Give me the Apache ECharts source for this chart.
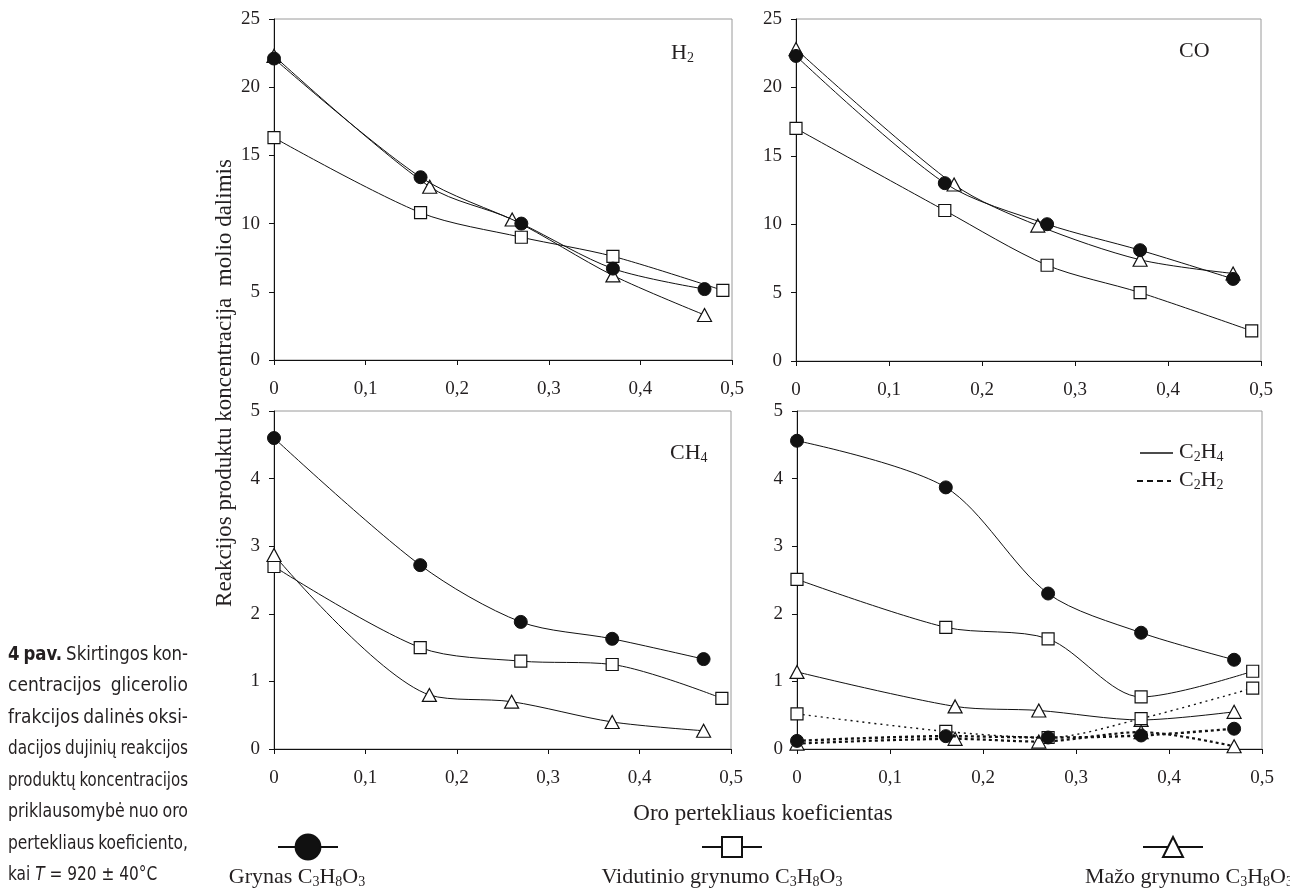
<!DOCTYPE html>
<html><head><meta charset="utf-8">
<script src="https://cdn.jsdelivr.net/npm/echarts@6/dist/echarts.min.js"></script>
<style>html,body{margin:0;padding:0;background:#fff}#c{width:1290px;height:891px}</style>
</head><body><div id="c"></div>
<script>
// ---- data ----
const xGrynas    = [0, 0.16, 0.27, 0.37, 0.47];
const xVidutinio = [0, 0.16, 0.27, 0.37, 0.49];
const xMazo      = [0, 0.17, 0.26, 0.37, 0.47];

const h2Grynas    = [22.1, 13.4, 10.0, 6.7, 5.2];
const h2Vidutinio = [16.3, 10.8, 9.0, 7.6, 5.1];
const h2Mazo      = [22.3, 12.7, 10.3, 6.2, 3.3];

const coGrynas    = [22.3, 13.0, 10.0, 8.1, 6.0];
const coVidutinio = [17.0, 11.0, 7.0, 5.0, 2.2];
const coMazo      = [22.8, 12.9, 9.9, 7.4, 6.4];

const ch4Grynas    = [4.6, 2.72, 1.88, 1.63, 1.33];
const ch4Vidutinio = [2.7, 1.5, 1.3, 1.25, 0.75];
const ch4Mazo      = [2.87, 0.8, 0.7, 0.4, 0.27];

const c2h4Grynas    = [4.56, 3.87, 2.30, 1.72, 1.32];
const c2h4Vidutinio = [2.51, 1.80, 1.63, 0.77, 1.15];
const c2h4Mazo      = [1.14, 0.63, 0.57, 0.43, 0.55];

const c2h2Grynas    = [0.12, 0.19, 0.17, 0.20, 0.30];
const c2h2Vidutinio = [0.52, 0.26, 0.17, 0.45, 0.90];
const c2h2Mazo      = [0.08, 0.15, 0.11, 0.25, 0.04];

const xTickLabels = ['0', '0,1', '0,2', '0,3', '0,4', '0,5'];
const yTopTicks = [0, 5, 10, 15, 20, 25];
const yBottomTicks = [0, 1, 2, 3, 4, 5];

// ---- styling ----
const SERIF = "'Liberation Serif','Times New Roman',serif";
const INK = '#231f20';
const chart = echarts.init(document.getElementById('c'), null, {renderer: 'canvas'});

const grids = [
  {left: 274, top: 19, width: 458, height: 341},
  {left: 796, top: 19, width: 465, height: 342},
  {left: 274, top: 411, width: 457, height: 338},
  {left: 797, top: 411, width: 465, height: 338}
].map(g => Object.assign({show: true, borderColor: '#9a9a9a', borderWidth: 1, backgroundColor: 'transparent'}, g));

const axisLbl = {fontFamily: SERIF, fontSize: 19, color: INK};
const xAxes = grids.map((g, i) => ({
  gridIndex: i, type: 'value', min: 0, max: 0.5, interval: 0.1,
  axisLine: {show: true, onZero: false, lineStyle: {color: '#111', width: 1}},
  axisTick: {show: true, length: 5, lineStyle: {color: '#111'}},
  splitLine: {show: false},
  axisLabel: Object.assign({margin: 20, formatter: v => xTickLabels[Math.round(v * 10)]}, axisLbl)
}));
const yAxes = grids.map((g, i) => {
  const ticks = i < 2 ? yTopTicks : yBottomTicks;
  return {
    gridIndex: i, type: 'value', min: ticks[0], max: ticks[ticks.length - 1], interval: ticks[1] - ticks[0],
    axisLine: {show: true, lineStyle: {color: '#111', width: 1}},
    axisTick: {show: true, length: 5, lineStyle: {color: '#111'}},
    splitLine: {show: false},
    axisLabel: Object.assign({margin: 14}, axisLbl)
  };
});

const kinds = {
  Grynas:    {symbol: 'circle',   symbolSize: 13, itemStyle: {color: '#111', borderColor: '#111', borderWidth: 1}},
  Vidutinio: {symbol: 'rect',     symbolSize: 12, itemStyle: {color: '#fff', borderColor: '#111', borderWidth: 1.2}},
  Mazo:      {symbol: 'triangle', symbolSize: [14, 13], itemStyle: {color: '#fff', borderColor: '#111', borderWidth: 1.2}}
};
function pts(xs, ys) { return xs.map((x, i) => [x, ys[i]]); }
function mk(name, kind, gi, xs, ys, line) {
  const k = kinds[kind];
  return {
    name: name, type: 'line', xAxisIndex: gi, yAxisIndex: gi,
    data: pts(xs, ys), smooth: 0.3,
    symbol: k.symbol, symbolSize: k.symbolSize, itemStyle: k.itemStyle,
    lineStyle: Object.assign({color: '#111', width: 1}, line || {}),
    emphasis: {disabled: true}, silent: true, animation: false,
    z: kind === 'Grynas' ? 4 : 3
  };
}
const series = [
  mk('Grynas', 'Grynas', 0, xGrynas, h2Grynas),
  mk('Vidutinio', 'Vidutinio', 0, xVidutinio, h2Vidutinio),
  mk('Mazo', 'Mazo', 0, xMazo, h2Mazo),
  mk('Grynas', 'Grynas', 1, xGrynas, coGrynas),
  mk('Vidutinio', 'Vidutinio', 1, xVidutinio, coVidutinio),
  mk('Mazo', 'Mazo', 1, xMazo, coMazo),
  mk('Grynas', 'Grynas', 2, xGrynas, ch4Grynas),
  mk('Vidutinio', 'Vidutinio', 2, xVidutinio, ch4Vidutinio),
  mk('Mazo', 'Mazo', 2, xMazo, ch4Mazo),
  mk('Grynas', 'Grynas', 3, xGrynas, c2h4Grynas),
  mk('Vidutinio', 'Vidutinio', 3, xVidutinio, c2h4Vidutinio),
  mk('Mazo', 'Mazo', 3, xMazo, c2h4Mazo),
  mk('Grynas C2H2', 'Grynas', 3, xGrynas, c2h2Grynas, {type: [3, 3], width: 2.4}),
  mk('Vidutinio C2H2', 'Vidutinio', 3, xVidutinio, c2h2Vidutinio, {type: [2, 4], width: 1.4}),
  mk('Mazo C2H2', 'Mazo', 3, xMazo, c2h2Mazo, {type: [3, 3], width: 2.2})
];

// ---- legend (icons by ECharts) ----
const legCommon = {orient: 'horizontal', padding: 0, itemGap: 0, selectedMode: false,
  formatter: () => '', textStyle: {fontSize: 1, color: 'rgba(0,0,0,0)'}, lineStyle: {width: 2}};
const legends = [
  Object.assign({data: ['Grynas'], left: 307 - 30, top: 847 - 15.5, itemWidth: 60, itemHeight: 31}, legCommon),
  Object.assign({data: ['Vidutinio'], left: 731 - 30, top: 847 - 12.5, itemWidth: 60, itemHeight: 25}, legCommon),
  Object.assign({data: ['Mazo'], left: 1172 - 30, top: 847 - 12.5, itemWidth: 60, itemHeight: 25}, legCommon)
];

// ---- texts ----
function richStyle(size) {
  return {
    n: {fontFamily: SERIF, fontSize: size, color: INK},
    s: {fontFamily: SERIF, fontSize: Math.round(size * 0.64), color: INK, padding: [Math.round(size * 0.45), 0, 0, 0]}
  };
}
function rtext(x, y, text, size, align) {
  return {type: 'text', x: x, y: y, silent: true, style: {
    text: text, rich: richStyle(size), fontFamily: SERIF, fontSize: size, fill: INK,
    align: align || 'left', verticalAlign: 'middle', textAlign: align || 'left', textVerticalAlign: 'middle'}};
}
const graphics = [
  rtext(671, 53, '{n|H}{s|2}', 22),
  rtext(1179, 51, '{n|CO}', 22),
  rtext(670, 453, '{n|CH}{s|4}', 22),
  {type: 'line', silent: true, shape: {x1: 1140, y1: 453, x2: 1173, y2: 453}, style: {stroke: '#111', lineWidth: 1.3}},
  rtext(1179, 452, '{n|C}{s|2}{n|H}{s|4}', 22),
  {type: 'line', silent: true, shape: {x1: 1137, y1: 481, x2: 1171, y2: 481}, style: {stroke: '#111', lineWidth: 2.2, lineDash: [6, 4]}},
  rtext(1179, 480, '{n|C}{s|2}{n|H}{s|2}', 22),
  {type: 'text', x: 225, y: 383, rotation: Math.PI / 2, silent: true, style: {
    text: 'Reakcijos produktu koncentracija  molio dalimis', fontFamily: SERIF, fontSize: 23, fill: INK,
    align: 'center', verticalAlign: 'middle', textAlign: 'center', textVerticalAlign: 'middle'}},
  {type: 'text', x: 763, y: 814, silent: true, style: {
    text: 'Oro pertekliaus koeficientas', fontFamily: SERIF, fontSize: 23, fill: INK,
    align: 'center', verticalAlign: 'middle', textAlign: 'center', textVerticalAlign: 'middle'}},
  rtext(297, 877, '{n|Grynas C}{s|3}{n|H}{s|8}{n|O}{s|3}', 22, 'center'),
  rtext(722, 877, '{n|Vidutinio grynumo C}{s|3}{n|H}{s|8}{n|O}{s|3}', 22, 'center'),
  rtext(1189, 877, '{n|Mažo grynumo C}{s|3}{n|H}{s|8}{n|O}{s|3}', 22, 'center')
];

// caption (justified, measured with canvas)
const CAPFONT = "'Liberation Sans Narrow','DejaVu Sans Condensed','Liberation Sans',sans-serif";
const CAPSIZE = 19;
const captionRows = [
  '4 pav. Skirtingos kon-',
  'centracijos glicerolio',
  'frakcijos dalinės oksi-',
  'dacijos dujinių reakcijos',
  'produktų koncentracijos',
  'priklausomybė nuo oro',
  'pertekliaus koeficiento,'
];
const capLeft = 8, capRight = 188, capTop = 655, capStep = 31.5;
const mctx = document.createElement('canvas').getContext('2d');
function mw(t, bold) { mctx.font = (bold ? 'bold ' : '') + CAPSIZE + 'px ' + CAPFONT; return mctx.measureText(t).width; }
captionRows.forEach((row, r) => {
  const words = row.split(' ');
  const bolds = words.map((w, i) => r === 0 && i < 2);
  const ws = words.map((w, i) => mw(w, bolds[i]));
  const tot = ws.reduce((a, b) => a + b, 0);
  const avail = capRight - capLeft;
  let gap = (avail - tot) / (words.length - 1), s = 1;
  if (gap < 4) { gap = 4; s = (avail - 4 * (words.length - 1)) / tot; }
  let x = capLeft;
  const y = capTop + r * capStep;
  words.forEach((w, i) => {
    graphics.push({type: 'text', x: x, y: y, scaleX: s, silent: true, style: {
      text: w, fontFamily: CAPFONT, fontSize: CAPSIZE, fontWeight: bolds[i] ? 'bold' : 'normal', fill: INK,
      align: 'left', verticalAlign: 'middle', textAlign: 'left', textVerticalAlign: 'middle'}});
    x += ws[i] * s + gap;
  });
});
graphics.push({type: 'text', x: capLeft, y: capTop + 7 * capStep, scaleX: 0.9, silent: true, style: {
  text: '{n|kai }{i|T}{n| = 920 ± 40°C}',
  rich: {n: {fontFamily: CAPFONT, fontSize: CAPSIZE, color: INK}, i: {fontFamily: CAPFONT, fontSize: CAPSIZE, fontStyle: 'italic', color: INK}},
  fontFamily: CAPFONT, fontSize: CAPSIZE, fill: INK,
  align: 'left', verticalAlign: 'middle', textAlign: 'left', textVerticalAlign: 'middle'}});

chart.setOption({
  animation: false,
  backgroundColor: '#fff',
  grid: grids,
  xAxis: xAxes,
  yAxis: yAxes,
  legend: legends,
  series: series,
  graphic: {elements: graphics}
});
</script></body></html>
